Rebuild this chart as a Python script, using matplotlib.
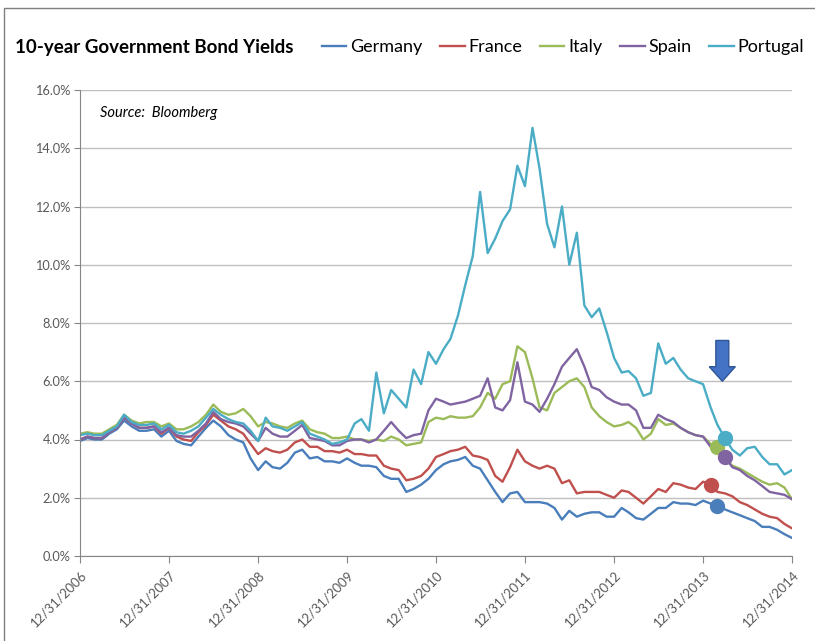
import matplotlib
matplotlib.use("Agg")
import matplotlib.pyplot as plt
import matplotlib.dates as mdates
from matplotlib.patches import FancyArrow, Rectangle
from matplotlib.ticker import FuncFormatter, MultipleLocator
import pandas as pd

plt.rcParams['font.family'] = ['Lato', 'DejaVu Sans']

# month end yields, Dec 2006 .. Dec 2014 (percent)
dates = pd.date_range('2006-12-31', periods=97, freq='ME')

germany = [3.95, 4.05, 4.0, 4.0, 4.2, 4.35, 4.65, 4.45, 4.3, 4.3, 4.35, 4.1,
           4.3, 3.95, 3.85, 3.8, 4.1, 4.4, 4.65, 4.45, 4.15, 4.0, 3.9, 3.35,
           2.95, 3.25, 3.05, 3.0, 3.2, 3.55, 3.65, 3.35, 3.4, 3.25, 3.25, 3.2,
           3.35, 3.2, 3.1, 3.1, 3.05, 2.75, 2.65, 2.65, 2.2, 2.3, 2.45, 2.65,
           2.95, 3.15, 3.25, 3.3, 3.4, 3.1, 3.0, 2.6, 2.2, 1.85, 2.15, 2.2,
           1.85, 1.85, 1.85, 1.8, 1.65, 1.25, 1.55, 1.35, 1.45, 1.5, 1.5, 1.35,
           1.35, 1.65, 1.5, 1.3, 1.25, 1.45, 1.65, 1.65, 1.85, 1.8, 1.8, 1.75,
           1.9, 1.8, 1.7, 1.6, 1.5, 1.4, 1.3, 1.2, 1.0, 1.0, 0.9, 0.75,
           0.62]

france = [4.0, 4.1, 4.05, 4.05, 4.25, 4.4, 4.75, 4.55, 4.4, 4.4, 4.45, 4.2,
          4.4, 4.1, 4.0, 3.95, 4.25, 4.5, 4.85, 4.65, 4.45, 4.35, 4.2, 3.85,
          3.5, 3.7, 3.6, 3.55, 3.65, 3.9, 4.0, 3.75, 3.75, 3.6, 3.6, 3.55,
          3.65, 3.5, 3.5, 3.45, 3.45, 3.1, 3.0, 2.95, 2.6, 2.65, 2.75, 3.0,
          3.4, 3.5, 3.6, 3.65, 3.75, 3.45, 3.4, 3.3, 2.75, 2.55, 3.05, 3.65,
          3.25, 3.1, 3.0, 3.1, 3.0, 2.5, 2.6, 2.15, 2.2, 2.2, 2.2, 2.1,
          2.0, 2.25, 2.2, 2.0, 1.8, 2.05, 2.3, 2.2, 2.5, 2.45, 2.35, 2.3,
          2.55, 2.45, 2.2, 2.15, 2.05, 1.85, 1.75, 1.6, 1.45, 1.35, 1.3, 1.1,
          0.95]

italy = [4.2, 4.25, 4.2, 4.2, 4.35, 4.5, 4.85, 4.65, 4.55, 4.6, 4.6, 4.45,
         4.55, 4.35, 4.35, 4.45, 4.6, 4.85, 5.2, 4.95, 4.85, 4.9, 5.05, 4.8,
         4.45, 4.6, 4.55, 4.45, 4.4, 4.55, 4.65, 4.35, 4.25, 4.2, 4.05, 4.05,
         4.1, 4.0, 4.0, 3.95, 4.0, 3.95, 4.1, 4.0, 3.8, 3.85, 3.9, 4.6,
         4.75, 4.7, 4.8, 4.75, 4.75, 4.8, 5.1, 5.6, 5.4, 5.9, 6.0, 7.2,
         7.0, 6.1, 5.1, 5.0, 5.6, 5.8, 6.0, 6.1, 5.8, 5.1, 4.8, 4.6,
         4.45, 4.5, 4.6, 4.4, 4.0, 4.2, 4.7, 4.5, 4.55, 4.4, 4.25, 4.15,
         4.1, 3.85, 3.75, 3.35, 3.1, 3.0, 2.85, 2.7, 2.55, 2.45, 2.5, 2.35,
         1.95]

spain = [4.0, 4.1, 4.05, 4.05, 4.25, 4.4, 4.75, 4.55, 4.4, 4.4, 4.45, 4.25,
         4.4, 4.15, 4.1, 4.1, 4.3, 4.55, 4.95, 4.7, 4.6, 4.55, 4.45, 4.2,
         3.95, 4.4, 4.2, 4.1, 4.1, 4.3, 4.5, 4.05, 4.0, 3.95, 3.8, 3.8,
         3.95, 4.0, 4.0, 3.9, 4.0, 4.3, 4.6, 4.3, 4.05, 4.15, 4.2, 5.0,
         5.4, 5.3, 5.2, 5.25, 5.3, 5.4, 5.5, 6.1, 5.1, 5.0, 5.35, 6.65,
         5.3, 5.2, 4.95, 5.4, 5.9, 6.5, 6.8, 7.1, 6.5, 5.8, 5.7, 5.45,
         5.3, 5.2, 5.2, 5.0, 4.4, 4.4, 4.85, 4.7, 4.6, 4.4, 4.25, 4.15,
         4.1, 3.75, 3.6, 3.4, 3.05, 2.95, 2.75, 2.6, 2.4, 2.2, 2.15, 2.1,
         1.95]

portugal = [4.15, 4.2, 4.15, 4.15, 4.3, 4.45, 4.85, 4.6, 4.5, 4.5, 4.55, 4.35,
            4.5, 4.25, 4.2, 4.3, 4.45, 4.75, 5.05, 4.85, 4.7, 4.6, 4.55, 4.3,
            3.95, 4.75, 4.45, 4.4, 4.3, 4.45, 4.6, 4.2, 4.1, 4.0, 3.85, 3.9,
            4.0, 4.55, 4.7, 4.3, 6.3, 4.9, 5.7, 5.4, 5.1, 6.4, 5.9, 7.0,
            6.6, 7.1, 7.45, 8.25, 9.3, 10.3, 12.5, 10.4, 10.9, 11.5, 11.9, 13.4,
            12.7, 14.7, 13.3, 11.4, 10.6, 12.0, 10.0, 11.1, 8.6, 8.2, 8.5, 7.7,
            6.8, 6.3, 6.35, 6.1, 5.5, 5.6, 7.3, 6.6, 6.8, 6.4, 6.1, 6.0,
            5.9, 5.1, 4.5, 4.05, 3.65, 3.45, 3.7, 3.75, 3.4, 3.15, 3.15, 2.8,
            2.95]

names = ['Germany', 'France', 'Italy', 'Spain', 'Portugal']
series = [germany, france, italy, spain, portugal]
colors = ['#4A7EBB', '#C0504D', '#9BBB59', '#8064A2', '#4BACC6']
# month index of the highlighted point on each line
dot_idx = [86, 85, 86, 87, 87]

fig = plt.figure(figsize=(8.15, 6.41), dpi=100)
ax = fig.add_axes([80/815, 1 - 556/641, 712/815, 466/641])

for name, vals, col in zip(names, series, colors):
    ax.plot(dates, vals, color=col, lw=1.7, label=name)

for vals, col, i in zip(series, colors, dot_idx):
    ax.plot(dates[i], vals[i], 'o', color=col, ms=10, zorder=5)

# down arrow above the dots
ax_x = mdates.date2num(pd.Timestamp('2014-03-20'))
arrow = FancyArrow(ax_x, 7.4, 0, -1.4, width=53, head_width=107, head_length=0.5,
                   length_includes_head=True, fc='#4472C4', ec='#2F5597', lw=1, zorder=6)
ax.add_patch(arrow)

ax.set_ylim(0, 16)
ax.yaxis.set_major_locator(MultipleLocator(2))
ax.yaxis.set_major_formatter(FuncFormatter(lambda v, p: f'{v:.1f}%'))
ax.yaxis.grid(True, color='#BFBFBF', lw=1)
ax.set_axisbelow(True)

years = pd.to_datetime([f'{y}-12-31' for y in range(2006, 2015)])
ax.set_xlim(years[0], years[-1])
ax.set_xticks(years)
ax.set_xticklabels([d.strftime('%m/%d/%Y') for d in years], rotation=45,
                   ha='right', rotation_mode='anchor')

for s in ['top', 'right']:
    ax.spines[s].set_visible(False)
for s in ['left', 'bottom']:
    ax.spines[s].set_color('#868686')
ax.tick_params(axis='y', length=4, color='#868686', labelsize=9.2, labelcolor='#595959', pad=3)
ax.tick_params(axis='x', length=5, color='#868686', labelsize=9.5, labelcolor='#595959', pad=4)

fig.text(15/815, 1 - 47/641, '10-year Government Bond Yields', fontsize=13.5,
         fontweight='bold', va='center')
fig.text(100/815, 1 - 113/641, 'Source:  Bloomberg', fontsize=10.5,
         style='italic', va='center')

fig.legend(loc='center right', bbox_to_anchor=(804/815, 1 - 47/641), ncol=5,
           frameon=False, fontsize=13, handlelength=1.35, handletextpad=0.2,
           columnspacing=1.0, borderaxespad=0, borderpad=0)

# chart border
fig.add_artist(Rectangle((4/815, -0.05), 1.1, 1.05 - 8/641, transform=fig.transFigure,
                         fill=False, ec='#7F7F7F', lw=1))

fig.savefig('out.png', dpi=100)
